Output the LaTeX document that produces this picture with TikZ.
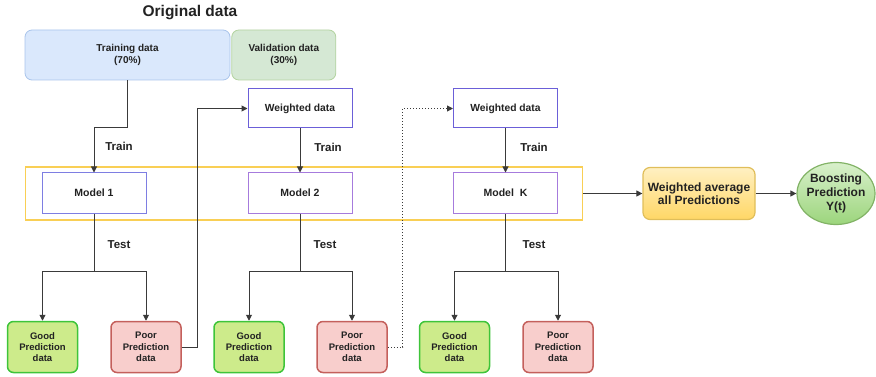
\documentclass[tikz,border=0pt]{standalone}
\usepackage{fontspec}
\setmainfont{Liberation Sans}
\usetikzlibrary{arrows.meta}
\usetikzlibrary{positioning}
\usetikzlibrary{shapes.geometric}

\definecolor{txt}{HTML}{222222}
\definecolor{wire}{HTML}{3A3A3A}
\definecolor{trainfill}{HTML}{DAE8FC}
\definecolor{trainline}{HTML}{A9C4EB}
\definecolor{valfill}{HTML}{D5E8D4}
\definecolor{valline}{HTML}{B3D3A0}
\definecolor{wdline}{HTML}{6B5FD8}
\definecolor{moneline}{HTML}{7E7EE2}
\definecolor{mline}{HTML}{A67BDD}
\definecolor{poolline}{HTML}{F9CF55}
\definecolor{goodfill}{HTML}{CDEB8B}
\definecolor{goodline}{HTML}{3EC43A}
\definecolor{poorfill}{HTML}{F8CECC}
\definecolor{poorline}{HTML}{C4605C}
\definecolor{avgtop}{HTML}{FFF0C2}
\definecolor{avgbot}{HTML}{FFD766}
\definecolor{avgline}{HTML}{E0BE5A}
\definecolor{outtop}{HTML}{D8F0CB}
\definecolor{outbot}{HTML}{9CD57C}
\definecolor{outline}{HTML}{82B366}

\tikzset{
  datbox/.style={draw, rounded corners=7pt, line width=0.8pt, minimum height=50pt, align=center, font=\fontsize{10}{12}\selectfont\bfseries},
  wdbox/.style={draw=wdline, line width=1pt, fill=white, minimum width=104pt, minimum height=39pt, font=\fontsize{10.3}{12}\selectfont\bfseries},
  modbox/.style={draw=mline, line width=1pt, fill=white, minimum width=104pt, minimum height=40pt, font=\fontsize{10.5}{12}\selectfont\bfseries},
  resbox/.style={rounded corners=6pt, line width=1.5pt, minimum width=70pt, minimum height=51pt, inner sep=1pt, align=center, font=\fontsize{9.5}{11.3}\selectfont\bfseries},
  goodbox/.style={resbox, draw=goodline, fill=goodfill},
  poorbox/.style={resbox, draw=poorline, fill=poorfill},
  lbl/.style={font=\fontsize{11.5}{13}\selectfont\bfseries},
  arr/.style={draw=wire, line width=1pt, -{Triangle[length=6pt,width=6pt]}},
  wire/.style={draw=wire, line width=1pt}
}

\begin{document}
\begin{tikzpicture}[x=1pt, y=-1pt, every node/.style={text=txt}]
  \useasboundingbox (0,0) rectangle (876,377);

  \node (ititle) at (190,13) {\fontsize{15.5}{18}\selectfont\bfseries Original data};
  \node (itrain) [datbox, draw=trainline, fill=trainfill, minimum width=205pt] at (127.5,55) {Training data\\(70\%)};
  \node (ival) [datbox, draw=valline, fill=valfill, minimum width=104pt, right=1pt of itrain] {Validation data\\(30\%)};

  \node (ipool) [draw=poolline, line width=1.8pt, minimum width=557pt, minimum height=53pt] at (304,193.5) {};

  \node (iwd1) [wdbox] at (300,108.5) {Weighted data};
  \node (iwd2) [wdbox] at (505.5,108.5) {Weighted data};

  \node (im1) [modbox, draw=moneline] at (94,193) {Model 1};
  \node (im2) [modbox] at (300,193) {Model 2};
  \node (imk) [modbox] at (505.5,193) {Model\ \ K};

  \node (igood1) [goodbox] at (42.5,347) {Good\\Prediction\\data};
  \node (ipoor1) [poorbox] at (146,347) {Poor\\Prediction\\data};
  \node (igood2) [goodbox] at (249,347) {Good\\Prediction\\data};
  \node (ipoor2) [poorbox] at (352,347) {Poor\\Prediction\\data};
  \node (igood3) [goodbox] at (454.5,347) {Good\\Prediction\\data};
  \node (ipoor3) [poorbox] at (558,347) {Poor\\Prediction\\data};

  \node (iavg) [draw=avgline, line width=1.2pt, rounded corners=7pt, top color=avgtop, bottom color=avgbot, minimum width=112pt, minimum height=52pt, align=center, font=\fontsize{12}{13.5}\selectfont\bfseries] at (699,193.5) {Weighted average\\all Predictions};
  \node (iout) [ellipse, draw=outline, line width=1.2pt, top color=outtop, bottom color=outbot, minimum width=78pt, minimum height=62pt, inner xsep=-5pt, inner ysep=0pt, align=center, font=\fontsize{12}{14}\selectfont\bfseries] at (836,193.5) {Boosting\\Prediction\\Y(t)};

  \node (itr1) [lbl] at (119,146) {Train};
  \node (itr2) [lbl] at (328,147) {Train};
  \node (itr3) [lbl] at (534,147) {Train};
  \node (ite1) [lbl] at (119,245) {Test};
  \node (ite2) [lbl] at (325,245) {Test};
  \node (ite3) [lbl] at (534,245) {Test};

  \coordinate (isplit1) at (94,271);
  \coordinate (isplit2) at (300,271);
  \coordinate (isplit3) at (505.5,271);

  \draw [arr] (itrain.south) -- ++(0,47) -| (im1.north);
  \draw [arr] (iwd1.south) -- (im2.north);
  \draw [arr] (iwd2.south) -- (imk.north);

  \draw [wire] (im1.south) -- (isplit1);
  \draw [arr] (isplit1) -| (igood1.north);
  \draw [arr] (isplit1) -| (ipoor1.north);
  \draw [wire] (im2.south) -- (isplit2);
  \draw [arr] (isplit2) -| (igood2.north);
  \draw [arr] (isplit2) -| (ipoor2.north);
  \draw [wire] (imk.south) -- (isplit3);
  \draw [arr] (isplit3) -| (igood3.north);
  \draw [arr] (isplit3) -| (ipoor3.north);

  \draw [arr] (ipoor1.east) -- ++(16,0) |- (iwd1.west);
  \draw [arr, dotted] (ipoor2.east) -- ++(15,0) |- (iwd2.west);

  \draw [arr] (ipool.east) -- (iavg.west);
  \draw [arr] (iavg.east) -- (iout.west);
\end{tikzpicture}
\end{document}
